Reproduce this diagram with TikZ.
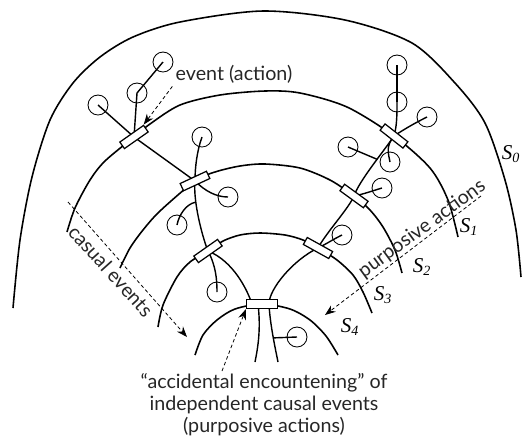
\documentclass[tikz,border=0pt]{standalone}
\usepackage{fontspec}
\setmainfont{Lato}
\newfontfamily\shellfont{Liberation Serif}
\usetikzlibrary{arrows.meta, calc, backgrounds}

\begin{document}
\begin{tikzpicture}[
    x=0.02cm, y=-0.02cm,
    shell/.style={line width=0.9pt},
    event/.style={draw, circle, line width=0.5pt, minimum size=0.4cm, inner sep=0pt},
    slot/.style={draw, fill=white, rectangle, line width=0.7pt, minimum width=0.58cm, minimum height=0.16cm, inner sep=0pt},
    link/.style={line width=0.8pt},
    hint/.style={-{Stealth[length=6pt, width=4.5pt]}, dash pattern=on 2pt off 1.5pt, line width=0.45pt},
    note/.style={font=\fontsize{11.2}{12.5}\selectfont, inner sep=0pt, text=black!85},
    shellname/.style={font=\shellfont\large\itshape, inner sep=0pt},
  ]
  \useasboundingbox (0,0) rectangle (525,444);

  % crossing points on the shells
  \node[slot, rotate=35]  (r1l) at (134,137) {};
  \node[slot, rotate=25]  (r2l) at (195,181) {};
  \node[slot, rotate=35]  (r3l) at (208,251) {};
  \node[slot, rotate=-38] (r1r) at (394,136) {};
  \node[slot, rotate=-36] (r2r) at (354,196) {};
  \node[slot, rotate=-29] (r3r) at (318,248) {};
  \node[slot, minimum width=0.62cm, minimum height=0.18cm] (r4) at (262,304) {};

  % events
  \node[event] (a1) at (98,105) {};
  \node[event] (a2) at (137,93) {};
  \node[event] (a3) at (163,62) {};
  \node[event] (b1) at (202,137) {};
  \node[event] (b2) at (228,197) {};
  \node[event] (c1) at (177,225) {};
  \node[event] (c2) at (217,292) {};
  \node[event] (d1) at (397,65) {};
  \node[event] (d2) at (397,102) {};
  \node[event] (d3) at (427,117) {};
  \node[event] (d4) at (348,147) {};
  \node[event] (d5) at (390,162) {};
  \node[event] (d6) at (382,188) {};
  \node[event] (e1) at (342,235) {};
  \node[event] (f1) at (297,337) {};

  % labels
  \node[note] (evlabel) at (234,74) {event (action)};
  \node[note, rotate=-48] (caslabel) at (111,271) {casual events};
  \node[note, rotate=36] (purlabel) at (422,229) {purposive actions};
  \node[note, align=center] (enc) at (264,405)
    {“accidental encountening” of\\independent causal events\\(purposive actions)};
  \node[shellname] (s0) at (511,154) {S\textsubscript{0}};
  \node[shellname] (s1) at (469,227) {S\textsubscript{1}};
  \node[shellname] (s2) at (422,267) {S\textsubscript{2}};
  \node[shellname] (s3) at (383,295) {S\textsubscript{3}};
  \node[shellname] (s4) at (350,327) {S\textsubscript{4}};

  \begin{scope}[on background layer]
    % shells
    \draw[shell] plot[smooth] coordinates {(13,308) (20,240) (32,177) (50,120) (73,83) (100,57)
      (133,37) (180,22) (263,11) (345,20) (412,43) (455,83) (485,123) (505,180) (516,230) (521,277)};
    \draw[shell] plot[smooth] coordinates {(67,232) (75,208) (90,180) (105,161) (134,137) (150,124)
      (180,105) (220,95) (265,91) (300,93) (347,107) (394,136) (430,168) (448,200) (458,237)};
    \draw[shell] plot[smooth] coordinates {(120,268) (130,248) (143,230) (160,211) (195,181) (215,172)
      (240,166) (265,164) (300,168) (330,180) (354,196) (370,210) (383,227) (395,250) (402,273)};
    \draw[shell] plot[smooth] coordinates {(158,327) (163,305) (177,277) (190,262) (208,251) (223,241)
      (240,235) (260,233) (285,235) (303,240) (318,248) (337,260) (353,275) (363,292) (372,313)};
    \draw[shell] plot[smooth] coordinates {(195,355) (203,335) (217,320) (235,309) (262,304)
      (290,309) (310,320) (326,336) (338,355)};

    % left path
    \draw[link] (a1.center) -- (r1l.center) -- (r2l.center);
    \draw[link] (a2.center) -- (r1l.center);
    \draw[link] (a3.center) -- (a2.center);
    \draw[link] (b1.center) .. controls +(-5,14) and +(0,-14) .. (r2l.center);
    \draw[link] (r2l.center) .. controls +(10,10) and +(-12,0) .. (b2.center);
    \draw[link] (r2l.center) .. controls +(-2,20) and +(-6,-15) .. (r3l.center)
      coordinate[pos=0.3] (j1);
    \draw[link] (j1) .. controls +(-10,2) and +(2,-10) .. (c1.center);
    \draw[link] (r3l.center) .. controls +(8,15) and +(0,-12) .. (c2.center);
    \draw[link] (r3l.center) .. controls +(25,10) and +(-5,-15) .. ($(r4.center)+(-10,0)$);

    % right path
    \draw[link] (d1.center) -- (d2.center);
    \draw[link] (d2.center) .. controls +(0,12) and +(3,-10) .. (r1r.center);
    \draw[link] (r1r.center) .. controls +(12,-8) and +(-10,5) .. (d3.center);
    \draw[link] (r1r.center) .. controls +(-8,10) and +(-2,-10) .. (d5.center);
    \draw[link] (r1r.center) .. controls +(-10,15) and +(5,-15) .. (r2r.center)
      coordinate[pos=0.4] (j2);
    \draw[link] (d4.center) -- (j2);
    \draw[link] (r2r.center) .. controls +(10,-2) and +(-10,3) .. (d6.center);
    \draw[link] (r2r.center) .. controls +(-5,12) and +(8,-15) .. (r3r.center);
    \draw[link] (r3r.center) .. controls +(10,-5) and +(-10,5) .. (e1.center);
    \draw[link] (r3r.center) .. controls +(-25,12) and +(0,-15) .. ($(r4.center)+(7,0)$);

    % below the meeting point
    \coordinate (t1) at (255,362);
    \coordinate (t2) at (278,362);
    \draw[link] ($(r4.center)+(-4,0)$) .. controls +(3,25) and +(3,-15) .. (t1);
    \draw[link] ($(r4.center)+(7,0)$) .. controls +(1,20) and +(-3,-15) .. (t2)
      coordinate[pos=0.55] (j3);
    \draw[link] (j3) -- (f1.center);
  \end{scope}

  % pointers
  \coordinate (casfoot) at (68,202);
  \coordinate (castip) at (187,337);
  \coordinate (purfoot) at (481,196);
  \coordinate (purtip) at (325,315);
  \coordinate (encfoot) at (222,371);
  \draw[hint] ([shift={(-3,3)}]evlabel.south west) -- (r1l.north east);
  \draw[hint] (casfoot) -- (castip);
  \draw[hint] (purfoot) -- (purtip);
  \draw[hint] (encfoot) -- (r4.south west);
\end{tikzpicture}
\end{document}
